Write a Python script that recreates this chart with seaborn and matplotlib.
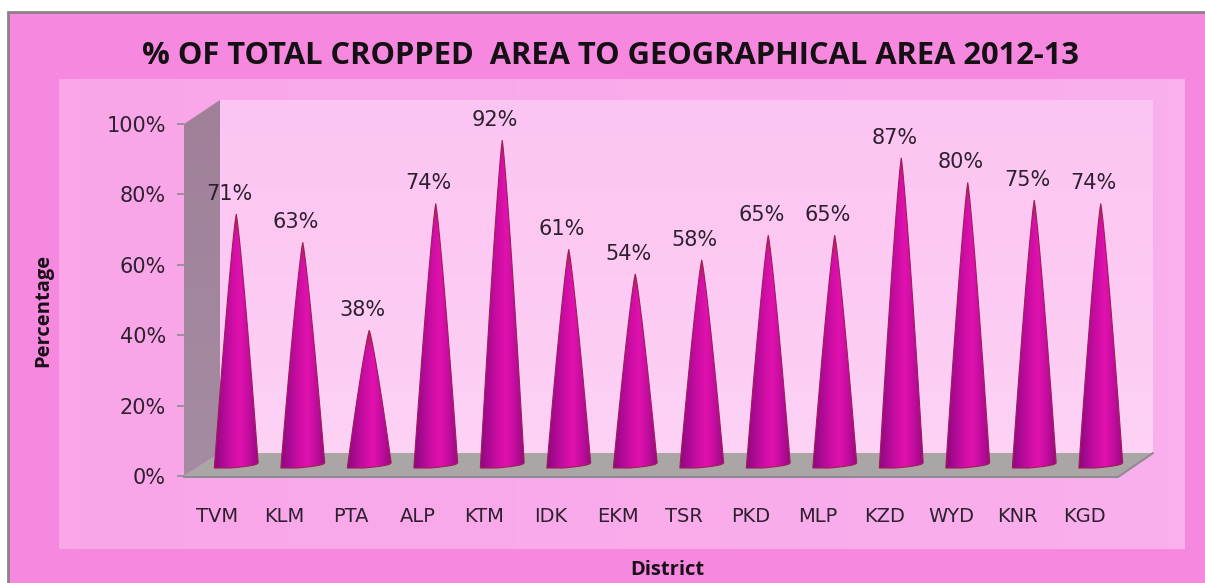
import numpy as np
import pandas as pd
import seaborn as sns
import matplotlib.pyplot as plt
from matplotlib.colors import LinearSegmentedColormap
from matplotlib.patches import Polygon, Rectangle, PathPatch
from matplotlib.path import Path

districts = ['TVM', 'KLM', 'PTA', 'ALP', 'KTM', 'IDK', 'EKM', 'TSR', 'PKD', 'MLP', 'KZD', 'WYD', 'KNR', 'KGD']
percent = [71, 63, 38, 74, 92, 61, 54, 58, 65, 65, 87, 80, 75, 74]
y_ticks = [0, 20, 40, 60, 80, 100]

W, H = 1205, 583

sns.set_style('white')
plt.rcParams['font.family'] = ['DejaVu Sans']

df = pd.DataFrame({'District': districts, 'Percentage': percent})


def box(x0, y0, x1, y1):
    # pixel box (top-left origin) -> figure fractions
    return [x0 / W, 1 - y1 / H, (x1 - x0) / W, (y1 - y0) / H]


fig = plt.figure(figsize=(W / 100, H / 100), dpi=100, facecolor='white')

# frame, panel and walls
bg = fig.add_axes([0, 0, 1, 1], zorder=0)
bg.set_xlim(0, W)
bg.set_ylim(H, 0)
bg.axis('off')
bg.add_patch(Rectangle((8, 12), W, H, fc='#F688E0', ec='#8E8088', lw=2, zorder=0))
panel = LinearSegmentedColormap.from_list('panel', ['#FAA6E9', '#F9B0EC'])
bg.imshow(np.linspace(0, 1, 64).reshape(1, -1), cmap=panel, extent=(59, 1185, 549, 79), aspect='auto', zorder=1)
wall = LinearSegmentedColormap.from_list('wall', ['#FCC4F2', '#FDCAF3', '#FCD2F5'])
bg.imshow(np.linspace(0, 1, 64).reshape(-1, 1), cmap=wall, extent=(220, 1153, 453, 100), aspect='auto', zorder=2)
side = LinearSegmentedColormap.from_list('side', ['#A08098', '#A58CA2'])
im = bg.imshow(np.linspace(0, 1, 64).reshape(-1, 1), cmap=side, extent=(184, 220, 476, 100), aspect='auto', zorder=2)
im.set_clip_path(Polygon([(184, 124), (220, 100), (220, 453), (184, 476)], transform=bg.transData))
bg.add_patch(Polygon([(184, 476), (220, 453), (1153, 453), (1118, 476)], fc='#ABA6A6', ec='none', zorder=3))
bg.plot([184, 1118, 1153], [477, 477, 453], color='#8E8A92', lw=1.5, zorder=4)
bg.set_xlim(0, W)
bg.set_ylim(H, 0)

# front axis: carries the ticks and labels
ax = fig.add_axes(box(184, 124, 1118, 476), zorder=1)
ax.patch.set_alpha(0)
ax.set_xlim(-0.5, len(districts) - 0.5)
ax.set_ylim(0, 100)
ax.set_xticks(range(len(districts)), districts)
ax.set_yticks(y_ticks, [f'{v}%' for v in y_ticks])
ax.tick_params(axis='y', left=True, length=5, width=1.2, color='#8E8A92', labelsize=15, labelcolor='#2E2030', pad=8)
ax.tick_params(axis='x', bottom=False, labelsize=14, labelcolor='#2E2030', pad=19)
sns.despine(ax=ax, left=True, bottom=True)

# cones sit half way into the depth
cone_ax = fig.add_axes(box(203, 112, 1134, 464), zorder=2)
cone_ax.patch.set_alpha(0)
sns.barplot(data=df, x='District', y='Percentage', ax=cone_ax, width=0.66, color='#C0109A')
cone_ax.set_xlim(-0.5, len(districts) - 0.5)
cone_ax.set_ylim(0, 100)
cone_ax.axis('off')

shade = np.array([[0.56, 0.03, 0.50], [0.68, 0.04, 0.58], [0.80, 0.05, 0.64], [0.88, 0.07, 0.68], [0.76, 0.05, 0.62], [0.60, 0.04, 0.50]])
stops = np.linspace(0, 1, shade.shape[0])
u = np.linspace(0, 1, 80)
rgb = np.stack([np.interp(u, stops, shade[:, c]) for c in range(3)], axis=1)
px = 100 / 352  # one pixel in % units

for bar, v in zip(cone_ax.patches, percent):
    x0 = bar.get_x()
    w = bar.get_width()
    cx = x0 + w / 2
    bar.set_visible(False)
    # tip goes red over its top 22 px
    row = np.linspace(0, 1, 200)
    red = np.clip(1 - row * (v + 5 * px) / (22 * px), 0, 1)[:, None, None] ** 1.2
    img = rgb[None, :, :] * (1 - red) + np.array([0.66, 0.16, 0.22])[None, None, :] * red
    # sides bulge slightly, base is a tilted arc: left corner low, right corner high
    s = np.linspace(0, 1, 40)
    half = w / 2 * s ** 0.85
    low, high = -4.0 * px, 1.0 * px
    left = list(zip(cx - half, v * (1 - s) + low * s))
    right = list(zip(cx + half, v * (1 - s) + high * s))
    t = np.linspace(0, 1, 24)[1:-1]
    base = list(zip((x0 + w) - w * t, high + (low - high) * np.sqrt(np.clip(t * 1.6, 0, 1))))
    verts = left[::-1] + right[1:] + base + [left[-1]]
    codes = [Path.MOVETO] + [Path.LINETO] * (len(verts) - 2) + [Path.CLOSEPOLY]
    outline = PathPatch(Path(verts, codes), fc='none', ec='#A01E58', lw=0.8, transform=cone_ax.transData, clip_on=False, zorder=2)
    cone_ax.add_patch(outline)
    im = cone_ax.imshow(img, extent=(x0, x0 + w, low - px, v), origin='upper', aspect='auto', zorder=1.5)
    im.set_clip_box(fig.bbox)
    im.set_clip_path(outline)
    cone_ax.annotate(f'{v}%', (cx, v), xytext=(-5, 14.5), textcoords='offset points', ha='center', va='center',
                     fontsize=15, color='#2E2030', annotation_clip=False, zorder=3)
cone_ax.set_xlim(-0.5, len(districts) - 0.5)
cone_ax.set_ylim(0, 100)

fig.text(610 / W, 1 - 56 / H, '% OF TOTAL CROPPED  AREA TO GEOGRAPHICAL AREA 2012-13', ha='center', va='center',
         fontsize=22.2, fontweight='bold', family=['Open Sans', 'DejaVu Sans'], color='#141014')
fig.text(43 / W, 1 - 310 / H, 'Percentage', rotation=90, ha='center', va='center', fontsize=14.5,
         fontweight='bold', family=['Open Sans', 'DejaVu Sans'], color='#1A1018')
fig.text(667 / W, 1 - 570 / H, 'District', ha='center', va='center', fontsize=14.5,
         fontweight='bold', family=['Open Sans', 'DejaVu Sans'], color='#1A1018')

fig.savefig('out.png', dpi=100)
